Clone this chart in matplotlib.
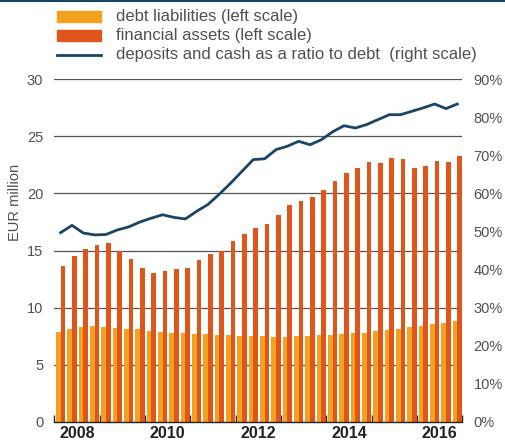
import matplotlib.pyplot as plt
import numpy as np
from matplotlib.patches import Rectangle
from matplotlib.lines import Line2D

plt.rcParams['font.family'] = ['Liberation Sans', 'DejaVu Sans']

# quarterly data, 2008Q1 - 2016Q4
debt = [7.87, 8.13, 8.33, 8.39, 8.28, 8.22, 8.13, 8.10, 7.96, 7.84, 7.78, 7.75,
        7.69, 7.69, 7.60, 7.58, 7.49, 7.49, 7.52, 7.46, 7.46, 7.49, 7.54, 7.58,
        7.63, 7.69, 7.75, 7.81, 7.96, 8.07, 8.16, 8.28, 8.37, 8.54, 8.66, 8.81]
assets = [13.66, 14.54, 15.09, 15.44, 15.68, 14.97, 14.25, 13.46, 13.07, 13.22, 13.39, 13.51,
          14.18, 14.71, 14.97, 15.85, 16.46, 16.93, 17.32, 18.10, 18.98, 19.36, 19.68, 20.32,
          21.05, 21.82, 22.20, 22.78, 22.67, 23.10, 23.02, 22.20, 22.43, 22.80, 22.75, 23.30]
ratio = [49.7, 51.6, 49.6, 49.1, 49.2, 50.4, 51.2, 52.5, 53.5, 54.4, 53.7, 53.3,
         55.3, 57.1, 59.8, 62.7, 65.8, 68.9, 69.1, 71.5, 72.4, 73.7, 72.8, 74.1,
         76.2, 77.8, 77.2, 78.1, 79.4, 80.7, 80.7, 81.6, 82.5, 83.5, 82.3, 83.5]
years = ['2008', '2010', '2012', '2014', '2016']

c_debt = '#f4a11f'
c_assets = '#e0561a'
c_line = '#1b4565'
c_text = '#505050'

fig = plt.figure(figsize=(5.06, 4.42), dpi=100)
ax = fig.add_axes([0.1073, 0.0459, 0.8063, 0.7747])

x = np.arange(len(debt))
ax.bar(x + 0.35, debt, width=0.40, color=c_debt, zorder=2)
ax.bar(x + 0.77, assets, width=0.40, color=c_assets, zorder=2)

ax.set_xlim(0, 36)
ax.set_ylim(0, 30)
ax.set_yticks(range(0, 31, 5))
ax.grid(axis='y', color='#555555', linewidth=0.9, zorder=0)
ax.set_axisbelow(True)

ax.set_xticks(range(0, 37, 4))
ax.set_xticklabels([])
ax.set_xticks([2 + 8 * i for i in range(len(years))], minor=True)
ax.set_xticklabels(years, minor=True, fontsize=11.5, fontweight='bold', color='#222222')
ax.tick_params(axis='x', which='major', direction='in', length=5, width=1, color='#222222')
ax.tick_params(axis='x', which='minor', length=0, pad=3)
ax.tick_params(axis='y', length=0, pad=8, labelsize=10.5, labelcolor=c_text)

for s in ['left', 'right', 'top']:
    ax.spines[s].set_visible(False)
ax.spines['bottom'].set_color('#222222')
ax.spines['bottom'].set_linewidth(1)

ax.set_ylabel('EUR million', fontsize=10.5, color=c_text)
ax.yaxis.set_label_coords(-0.08, 0.64)

ax2 = ax.twinx()
ax2.plot(x + 0.56, ratio, color=c_line, linewidth=2, zorder=3)
ax2.set_ylim(0, 90)
ax2.set_yticks(range(0, 91, 10))
ax2.set_yticklabels([f'{v}%' for v in range(0, 91, 10)])
ax2.tick_params(axis='y', length=0, pad=8, labelsize=10.5, labelcolor=c_text)
for s in ax2.spines.values():
    s.set_visible(False)

# legend
fig.add_artist(Rectangle((57 / 506, 1 - 22 / 442), 44 / 506, 10.5 / 442,
                         transform=fig.transFigure, color=c_debt))
fig.add_artist(Rectangle((57 / 506, 1 - 41 / 442), 44 / 506, 10.5 / 442,
                         transform=fig.transFigure, color=c_assets))
fig.add_artist(Line2D([57 / 506, 101 / 506], [1 - 54.5 / 442, 1 - 54.5 / 442],
                      transform=fig.transFigure, color=c_line, linewidth=2))
labels = ['debt liabilities (left scale)', 'financial assets (left scale)',
          'deposits and cash as a ratio to debt  (right scale)']
for i, t in enumerate(labels):
    fig.text(116 / 506, 1 - (17 + 18.5 * i) / 442, t, fontsize=12, color=c_text,
             va='center', ha='left')

# top border
fig.add_artist(Line2D([0, 1], [0.998, 0.998], transform=fig.transFigure,
                      color=c_line, linewidth=1.5))

fig.savefig('out.png', dpi=100)
